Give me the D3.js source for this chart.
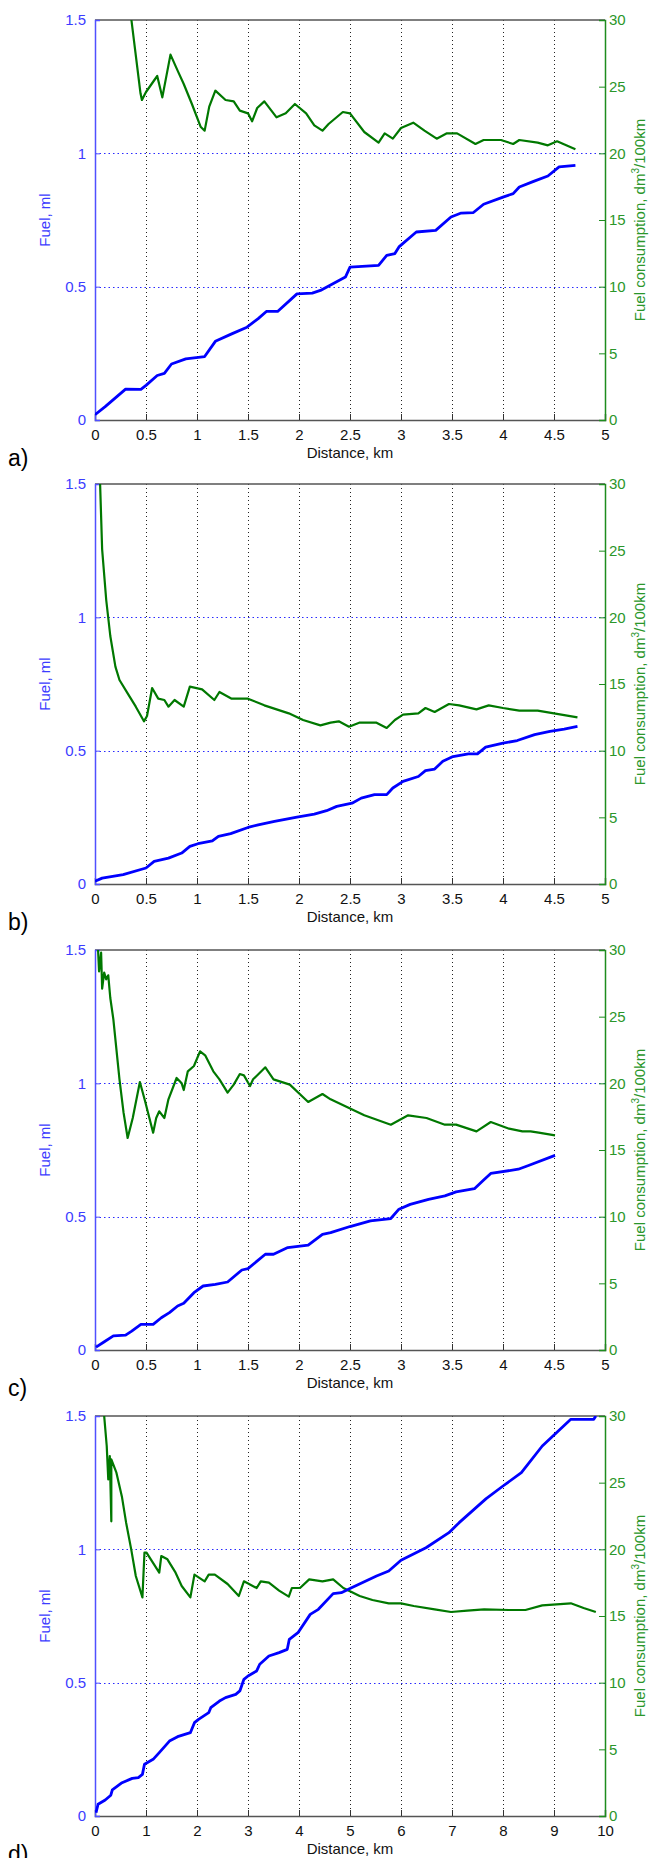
<!DOCTYPE html>
<html>
<head>
<meta charset="utf-8">
<script src="https://cdn.jsdelivr.net/npm/d3@7"></script>
<style>
  body { margin: 0; background: #fff; }
  svg text { font-family: "Liberation Sans", Arial, sans-serif; }
</style>
</head>
<body>
<div id="chart"></div>
<script>
// panel a
var fuelA_km = [0, 0.1, 0.3, 0.45, 0.5, 0.61, 0.68, 0.75, 0.89, 1.075, 1.18, 1.34, 1.49, 1.6, 1.68, 1.79, 1.98, 2.13, 2.21, 2.455, 2.5, 2.78, 2.86, 2.94, 2.98, 3.15, 3.34, 3.49, 3.59, 3.71, 3.81, 4.0, 4.1, 4.16, 4.3, 4.44, 4.55, 4.71];
var fuelA_ml = [0.02, 0.05, 0.116, 0.115, 0.13, 0.167, 0.175, 0.21, 0.229, 0.238, 0.295, 0.323, 0.348, 0.38, 0.407, 0.407, 0.473, 0.476, 0.486, 0.536, 0.573, 0.58, 0.617, 0.624, 0.649, 0.705, 0.711, 0.761, 0.776, 0.778, 0.809, 0.836, 0.849, 0.874, 0.895, 0.915, 0.949, 0.955];
var consA_km = [0.33, 0.357, 0.446, 0.46, 0.5, 0.61, 0.66, 0.74, 0.81, 0.87, 0.95, 1.035, 1.075, 1.12, 1.18, 1.28, 1.36, 1.42, 1.5, 1.54, 1.59, 1.66, 1.78, 1.87, 1.96, 2.07, 2.15, 2.23, 2.29, 2.43, 2.5, 2.64, 2.78, 2.84, 2.92, 3.0, 3.12, 3.23, 3.35, 3.45, 3.55, 3.73, 3.81, 3.98, 4.1, 4.16, 4.34, 4.44, 4.53, 4.71];
var consA_val = [32, 30, 24.5, 24.0, 24.6, 25.8, 24.2, 27.4, 26.2, 25.2, 23.7, 22.0, 21.7, 23.5, 24.7, 24.0, 23.9, 23.2, 23.0, 22.4, 23.4, 23.9, 22.7, 23.0, 23.7, 23.0, 22.1, 21.7, 22.2, 23.1, 23.0, 21.6, 20.8, 21.5, 21.1, 21.9, 22.3, 21.7, 21.1, 21.5, 21.5, 20.7, 21.0, 21.0, 20.7, 21.0, 20.8, 20.6, 20.9, 20.3];

// panel b
var fuelB_km = [0, 0.07, 0.276, 0.5, 0.58, 0.72, 0.85, 0.93, 1.01, 1.15, 1.21, 1.33, 1.5, 1.6, 1.76, 1.98, 2.15, 2.27, 2.37, 2.52, 2.61, 2.74, 2.86, 2.92, 3.02, 3.17, 3.24, 3.33, 3.41, 3.51, 3.66, 3.75, 3.83, 4.0, 4.14, 4.31, 4.46, 4.6, 4.73];
var fuelB_ml = [0.01, 0.022, 0.035, 0.06, 0.085, 0.097, 0.116, 0.141, 0.151, 0.162, 0.179, 0.189, 0.212, 0.222, 0.235, 0.251, 0.262, 0.275, 0.291, 0.303, 0.322, 0.335, 0.335, 0.36, 0.385, 0.403, 0.425, 0.431, 0.46, 0.478, 0.488, 0.488, 0.513, 0.528, 0.538, 0.56, 0.572, 0.581, 0.591];
var consB_km = [0.04, 0.05, 0.07, 0.11, 0.15, 0.2, 0.24, 0.32, 0.4, 0.48, 0.51, 0.56, 0.62, 0.68, 0.72, 0.78, 0.87, 0.93, 1.05, 1.17, 1.22, 1.34, 1.5, 1.66, 1.9, 2.04, 2.21, 2.31, 2.39, 2.49, 2.59, 2.76, 2.86, 2.94, 3.02, 3.17, 3.24, 3.33, 3.47, 3.57, 3.74, 3.86, 4.0, 4.16, 4.34, 4.5, 4.73];
var consB_val = [32, 30, 25.1, 21.3, 18.6, 16.3, 15.3, 14.3, 13.3, 12.2, 12.6, 14.7, 13.9, 13.8, 13.3, 13.8, 13.3, 14.8, 14.6, 13.8, 14.4, 13.9, 13.9, 13.4, 12.8, 12.3, 11.9, 12.1, 12.2, 11.8, 12.1, 12.1, 11.7, 12.3, 12.7, 12.8, 13.2, 12.9, 13.5, 13.4, 13.1, 13.4, 13.2, 13.0, 13.0, 12.8, 12.5];

// panel c
var fuelC_km = [0.01, 0.08, 0.18, 0.3, 0.36, 0.45, 0.57, 0.65, 0.73, 0.81, 0.87, 0.97, 1.06, 1.18, 1.3, 1.44, 1.5, 1.67, 1.75, 1.89, 2.09, 2.23, 2.31, 2.5, 2.7, 2.9, 2.98, 3.09, 3.27, 3.43, 3.54, 3.72, 3.8, 3.88, 4.15, 4.25, 4.51];
var fuelC_ml = [0.011, 0.028, 0.053, 0.056, 0.071, 0.096, 0.096, 0.121, 0.14, 0.165, 0.175, 0.215, 0.24, 0.246, 0.255, 0.3, 0.305, 0.359, 0.359, 0.384, 0.393, 0.434, 0.44, 0.463, 0.484, 0.493, 0.528, 0.546, 0.565, 0.578, 0.593, 0.605, 0.634, 0.662, 0.678, 0.692, 0.73];
var consC_km = [0.02, 0.03, 0.04, 0.06, 0.07, 0.09, 0.11, 0.13, 0.15, 0.18, 0.24, 0.28, 0.32, 0.37, 0.44, 0.49, 0.57, 0.6, 0.63, 0.68, 0.72, 0.8, 0.85, 0.87, 0.91, 0.97, 1.03, 1.08, 1.16, 1.22, 1.3, 1.36, 1.42, 1.46, 1.52, 1.55, 1.67, 1.75, 1.91, 2.09, 2.23, 2.31, 2.64, 2.9, 3.07, 3.25, 3.43, 3.54, 3.74, 3.88, 4.06, 4.19, 4.27, 4.35, 4.51];
var consC_val = [32, 30, 28.4, 29.8, 27.1, 28.3, 27.8, 28.1, 26.4, 24.8, 20.3, 17.8, 15.9, 17.4, 20.1, 18.7, 16.3, 17.4, 17.9, 17.4, 18.8, 20.4, 20.0, 19.5, 20.9, 21.3, 22.4, 22.1, 20.9, 20.3, 19.3, 19.9, 20.7, 20.6, 19.8, 20.3, 21.2, 20.3, 19.9, 18.6, 19.2, 18.8, 17.6, 16.9, 17.6, 17.4, 16.9, 16.9, 16.4, 17.1, 16.6, 16.4, 16.4, 16.3, 16.1];

// panel d
var fuelD_km = [0.02, 0.06, 0.2, 0.31, 0.34, 0.53, 0.73, 0.85, 0.93, 0.97, 1.14, 1.26, 1.46, 1.62, 1.87, 1.95, 2.03, 2.23, 2.27, 2.44, 2.56, 2.76, 2.84, 2.92, 3.0, 3.17, 3.23, 3.41, 3.61, 3.77, 3.81, 3.98, 4.22, 4.38, 4.67, 4.83, 5.03, 5.52, 5.76, 6.0, 6.49, 6.94, 7.14, 7.67, 8.0, 8.36, 8.77, 9.33, 9.78, 9.82];
var fuelD_ml = [0.0125, 0.044, 0.06, 0.078, 0.098, 0.125, 0.141, 0.144, 0.156, 0.194, 0.2125, 0.2375, 0.281, 0.2975, 0.3125, 0.35, 0.3625, 0.3875, 0.406, 0.431, 0.444, 0.456, 0.469, 0.5125, 0.525, 0.544, 0.569, 0.6, 0.6125, 0.625, 0.6625, 0.6875, 0.756, 0.775, 0.834, 0.8375, 0.856, 0.9, 0.919, 0.959, 1.006, 1.0625, 1.1, 1.19, 1.2375, 1.2875, 1.3875, 1.4875, 1.4875, 1.5];
var consD_km = [0.16, 0.18, 0.23, 0.26, 0.29, 0.32, 0.32, 0.42, 0.53, 0.61, 0.71, 0.8, 0.93, 0.97, 1.01, 1.26, 1.3, 1.42, 1.58, 1.7, 1.87, 1.95, 2.15, 2.23, 2.35, 2.6, 2.82, 2.92, 3.17, 3.25, 3.41, 3.61, 3.8, 3.86, 4.02, 4.2, 4.46, 4.67, 4.87, 5.19, 5.44, 5.76, 6.0, 6.25, 6.66, 6.98, 7.3, 7.63, 8.12, 8.44, 8.77, 9.33, 9.58, 9.82];
var consD_val = [32, 30, 27.75, 25.25, 27, 22.1, 26.75, 25.75, 23.9, 22, 20, 18, 16.4, 19.75, 19.75, 18.25, 19.5, 19.25, 18.25, 17.25, 16.4, 18.1, 17.6, 18.1, 18.1, 17.4, 16.5, 17.6, 17.1, 17.6, 17.5, 16.9, 16.45, 17.1, 17.1, 17.75, 17.6, 17.75, 17.1, 16.5, 16.2, 15.95, 15.95, 15.75, 15.5, 15.3, 15.4, 15.5, 15.45, 15.45, 15.8, 15.95, 15.6, 15.3];

var xTicks5 = [0, 0.5, 1, 1.5, 2, 2.5, 3, 3.5, 4, 4.5, 5];
var xTicks10 = [0, 1, 2, 3, 4, 5, 6, 7, 8, 9, 10];
var fuelTicks = [0, 0.5, 1, 1.5];
var consTicks = [0, 5, 10, 15, 20, 25, 30];

var panels = [
  {name: "a)", top: 20, xMax: 5, xTicks: xTicks5, fk: fuelA_km, fv: fuelA_ml, ck: consA_km, cv: consA_val},
  {name: "b)", top: 484, xMax: 5, xTicks: xTicks5, fk: fuelB_km, fv: fuelB_ml, ck: consB_km, cv: consB_val},
  {name: "c)", top: 950, xMax: 5, xTicks: xTicks5, fk: fuelC_km, fv: fuelC_ml, ck: consC_km, cv: consC_val},
  {name: "d)", top: 1416, xMax: 10, xTicks: xTicks10, fk: fuelD_km, fv: fuelD_ml, ck: consD_km, cv: consD_val}
];

var W = 649, H = 1858;
var left = 95, plotW = 510, plotH = 400;

var svg = d3.select("#chart").append("svg")
  .attr("width", W)
  .attr("height", H);

var blueAxis = "#5050ff", greenAxis = "#1e8c1e";

panels.forEach(function(p, i) {
  var g = svg.append("g").attr("transform", "translate(" + left + "," + p.top + ")");

  var x = d3.scaleLinear().domain([0, p.xMax]).range([0, plotW]);
  var yL = d3.scaleLinear().domain([0, 1.5]).range([plotH, 0]);
  var yR = d3.scaleLinear().domain([0, 30]).range([plotH, 0]);

  // clip
  var clipId = "clip" + i;
  g.append("clipPath").attr("id", clipId)
    .append("rect").attr("width", plotW).attr("height", plotH);

  // vertical grid (black dotted)
  g.selectAll(".vgrid").data(p.xTicks.slice(1, -1)).enter().append("line")
    .attr("x1", function(d) { return Math.round(x(d)) + 0.5; })
    .attr("x2", function(d) { return Math.round(x(d)) + 0.5; })
    .attr("y1", 0).attr("y2", plotH)
    .attr("stroke", "#222").attr("stroke-width", 1)
    .attr("stroke-dasharray", "1,3");

  // horizontal grid (blue dotted)
  g.selectAll(".hgrid").data([0.5, 1]).enter().append("line")
    .attr("x1", 0).attr("x2", plotW)
    .attr("y1", function(d) { return Math.round(yL(d)) + 0.5; })
    .attr("y2", function(d) { return Math.round(yL(d)) + 0.5; })
    .attr("stroke", "#2a2aff").attr("stroke-width", 1)
    .attr("stroke-dasharray", "1.5,3");

  // top border
  g.append("line").attr("x1", 0).attr("x2", plotW).attr("y1", 0).attr("y2", 0)
    .attr("stroke", "#555").attr("stroke-width", 1.5);

  // bottom axis
  var xAxis = d3.axisBottom(x).tickValues(p.xTicks).tickSize(-6).tickPadding(9)
    .tickFormat(d3.format("~g"));
  var gx = g.append("g").attr("transform", "translate(0," + plotH + ")").call(xAxis);
  gx.select(".domain").attr("stroke", "#555").attr("stroke-width", 1.5);
  gx.selectAll(".tick line").attr("stroke", "#333");
  gx.selectAll(".tick text").attr("fill", "#111").attr("font-size", 15)
    .attr("font-family", "Liberation Sans, Arial, sans-serif");

  // left axis
  var leftAxis = d3.axisLeft(yL).tickValues(fuelTicks).tickSize(-5).tickPadding(9)
    .tickFormat(d3.format("~g"));
  var gl = g.append("g").call(leftAxis);
  gl.select(".domain").attr("stroke", blueAxis).attr("stroke-width", 1.5);
  gl.selectAll(".tick line").attr("stroke", blueAxis);
  gl.selectAll(".tick text").attr("fill", "#3c3cff").attr("font-size", 15)
    .attr("font-family", "Liberation Sans, Arial, sans-serif");

  // right axis
  var rightAxis = d3.axisRight(yR).tickValues(consTicks).tickSize(-6).tickPadding(4);
  var gr = g.append("g").attr("transform", "translate(" + plotW + ",0)").call(rightAxis);
  gr.select(".domain").attr("stroke", greenAxis).attr("stroke-width", 1.5);
  gr.selectAll(".tick line").attr("stroke", greenAxis);
  gr.selectAll(".tick text").attr("fill", "#2a962a").attr("font-size", 15)
    .attr("font-family", "Liberation Sans, Arial, sans-serif");

  // curves
  var fuelPts = p.fk.map(function(k, j) { return [k, p.fv[j]]; });
  var consPts = p.ck.map(function(k, j) { return [k, p.cv[j]]; });

  var lineL = d3.line().x(function(d) { return x(d[0]); }).y(function(d) { return yL(d[1]); });
  var lineR = d3.line().x(function(d) { return x(d[0]); }).y(function(d) { return yR(d[1]); });

  var curves = g.append("g").attr("clip-path", "url(#" + clipId + ")");
  curves.append("path").datum(consPts)
    .attr("d", lineR).attr("fill", "none")
    .attr("stroke", "#007800").attr("stroke-width", 2.2)
    .attr("stroke-linejoin", "round");
  curves.append("path").datum(fuelPts)
    .attr("d", lineL).attr("fill", "none")
    .attr("stroke", "#0000ff").attr("stroke-width", 2.8)
    .attr("stroke-linejoin", "round");

  // axis titles
  g.append("text")
    .attr("transform", "translate(-45," + (plotH / 2) + ") rotate(-90)")
    .attr("text-anchor", "middle")
    .attr("fill", "#3c3cff").attr("font-size", 15)
    .text("Fuel, ml");

  var rt = g.append("text")
    .attr("transform", "translate(" + (plotW + 40) + "," + (plotH / 2) + ") rotate(-90)")
    .attr("text-anchor", "middle")
    .attr("fill", "#2a962a").attr("font-size", 15);
  rt.append("tspan").text("Fuel consumption, dm");
  rt.append("tspan").attr("dy", -6).attr("font-size", 10).text("3");
  rt.append("tspan").attr("dy", 6).text("/100km");

  g.append("text")
    .attr("x", plotW / 2).attr("y", plotH + 38)
    .attr("text-anchor", "middle")
    .attr("fill", "#111").attr("font-size", 15)
    .text("Distance, km");

  // panel letter
  svg.append("text")
    .attr("x", 8).attr("y", p.top + plotH + 46)
    .attr("font-family", "Liberation Serif, Times New Roman, serif")
    .attr("font-size", 23).attr("fill", "#000")
    .text(p.name);
});
</script>
</body>
</html>
